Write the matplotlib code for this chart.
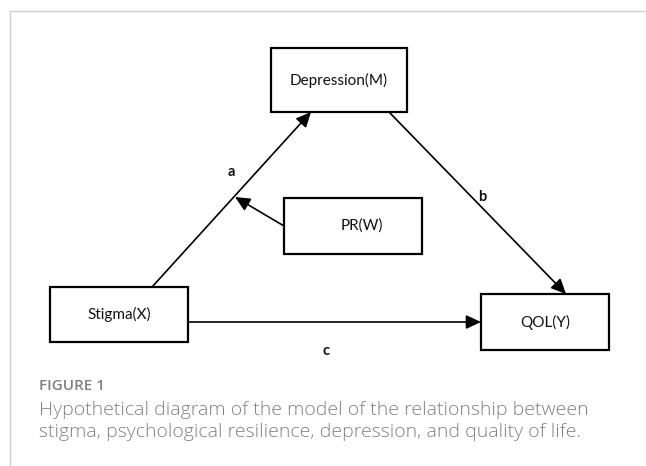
import matplotlib.pyplot as plt
from matplotlib.patches import Rectangle, FancyArrowPatch

# node labels and their boxes (left, top, right, bottom) in image pixels
nodes = ["Depression(M)", "PR(W)", "Stigma(X)", "QOL(Y)"]
boxes = [(271, 48, 407, 112), (284, 198, 422, 254), (50, 287, 188, 342), (481, 294, 609, 350)]
text_shift = [0, 9, 0, 0]

# paths: label, start, end
path_labels = ["a", "b", "c", ""]
path_start = [(152, 287), (389, 112), (188, 322), (284, 226)]
path_end = [(311, 112), (566, 294), (481, 322), (235, 197)]
label_pos = [(231, 172), (482, 197), (326, 351), None]

caption_head = "FIGURE 1"
caption = ("Hypothetical diagram of the model of the relationship between\n"
           "stigma, psychological resilience, depression, and quality of life.")

fig = plt.figure(figsize=(6.46, 4.66), dpi=100)
ax = fig.add_axes([0, 0, 1, 1])
ax.set_xlim(0, 646)
ax.set_ylim(466, 0)
ax.axis("off")

# light frame around the figure
ax.plot([10, 10, 646], [466, 11, 11], color="#cfcfcf", lw=1)

for name, (x0, y0, x1, y1), dx in zip(nodes, boxes, text_shift):
    ax.add_patch(Rectangle((x0, y0), x1 - x0, y1 - y0, fill=False, ec="black", lw=1.6))
    ax.text((x0 + x1) / 2 + dx, (y0 + y1) / 2, name, ha="center", va="center",
            fontsize=11, family="Lato", color="#111111")

for lab, s, e, p in zip(path_labels, path_start, path_end, label_pos):
    ax.add_patch(FancyArrowPatch(s, e, arrowstyle="-|>,head_length=6,head_width=2.8",
                                 mutation_scale=1.5, color="black", lw=1.2,
                                 shrinkA=0, shrinkB=0))
    if p:
        ax.text(p[0], p[1], lab, ha="center", va="center", fontsize=10.5,
                family="Lato", weight="bold", color="#111111")

ax.text(39, 386, caption_head, ha="left", va="center", fontsize=11,
        family="Open Sans", weight="semibold", color="#808080")
ax.text(39, 421, caption, ha="left", va="center", fontsize=14,
        family="Open Sans", weight="light", color="#808080", linespacing=1.22)

fig.savefig("out.png", dpi=100)
